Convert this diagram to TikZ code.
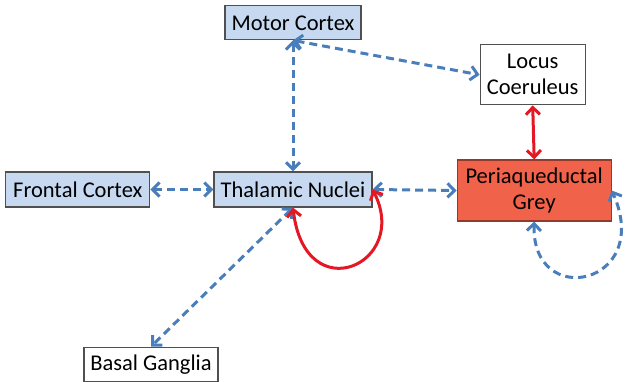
\documentclass[tikz,border=0pt]{standalone}
\usepackage{fontspec}
\setmainfont{Carlito}
\usepackage{xcolor}
\usetikzlibrary{shapes,arrows,arrows.meta,positioning,calc}
\definecolor{lightblue}{RGB}{198,217,240}
\definecolor{linkblue}{RGB}{74,126,187}
\definecolor{linkred}{RGB}{228,24,36}
\definecolor{pagred}{RGB}{240,98,74}
\definecolor{boxline}{RGB}{80,80,80}

\begin{document}
\begin{tikzpicture}[x=1pt,y=1pt,
		region/.style={rectangle, draw=boxline, line width=1.2pt, font=\fontsize{22.5}{26}\selectfont, align=center, inner sep=0pt},
		link/.style={{Straight Barb[length=7pt,width=14pt]}-{Straight Barb[length=7pt,width=14pt]}, linkblue, line width=3pt, dash pattern=on 8pt off 5pt},
		redlink/.style={{Straight Barb[length=7pt,width=14pt]}-{Straight Barb[length=7pt,width=14pt]}, linkred, line width=3pt}]
				\useasboundingbox (0,0) rectangle (625,-381);

				% Centro
				\node[region, fill=lightblue, minimum width=158pt, minimum height=35pt] (thal) at (293,-189.5) {Thalamic Nuclei};
				\node[region, fill=lightblue, minimum width=144pt, minimum height=35pt, left=63pt of thal] (front) {Frontal Cortex};
				\node[region, fill=lightblue, minimum width=136pt, minimum height=34pt, above=131pt of thal] (motor) {Motor Cortex};
				\node[region, fill=pagred, draw=pagred!60!black, minimum width=154pt, minimum height=61pt, right=84pt of thal, yshift=-1pt] (pag) {Periaqueductal\\Grey};
				\node[region, fill=white, minimum width=105pt, minimum height=60pt, above=54pt of pag, xshift=-1.5pt] (locus) {Locus\\Coeruleus};
				\node[region, fill=white, minimum width=134pt, minimum height=34pt, below=139pt of thal, xshift=-142pt] (basal) {Basal Ganglia};

				% Collegamenti
				\draw[link] (motor.south) -- (thal.north);
				\draw[link] (motor.south) -- (locus.west);
				\draw[link] (front) -- (thal);
				\draw[link] (thal.east) -- (pag.west);
				\draw[link] (thal.south) -- (basal.north);
				\draw[redlink] (locus.south) -- (pag.north);

				% Anelli
				\draw[redlink] (thal.south) .. controls +(12,-103) and +(38,-75) .. (thal.east);
				\draw[link] (pag.south) .. controls +(-3,-89) and +(42,-95) .. (pag.east);
			\end{tikzpicture}
\end{document}
